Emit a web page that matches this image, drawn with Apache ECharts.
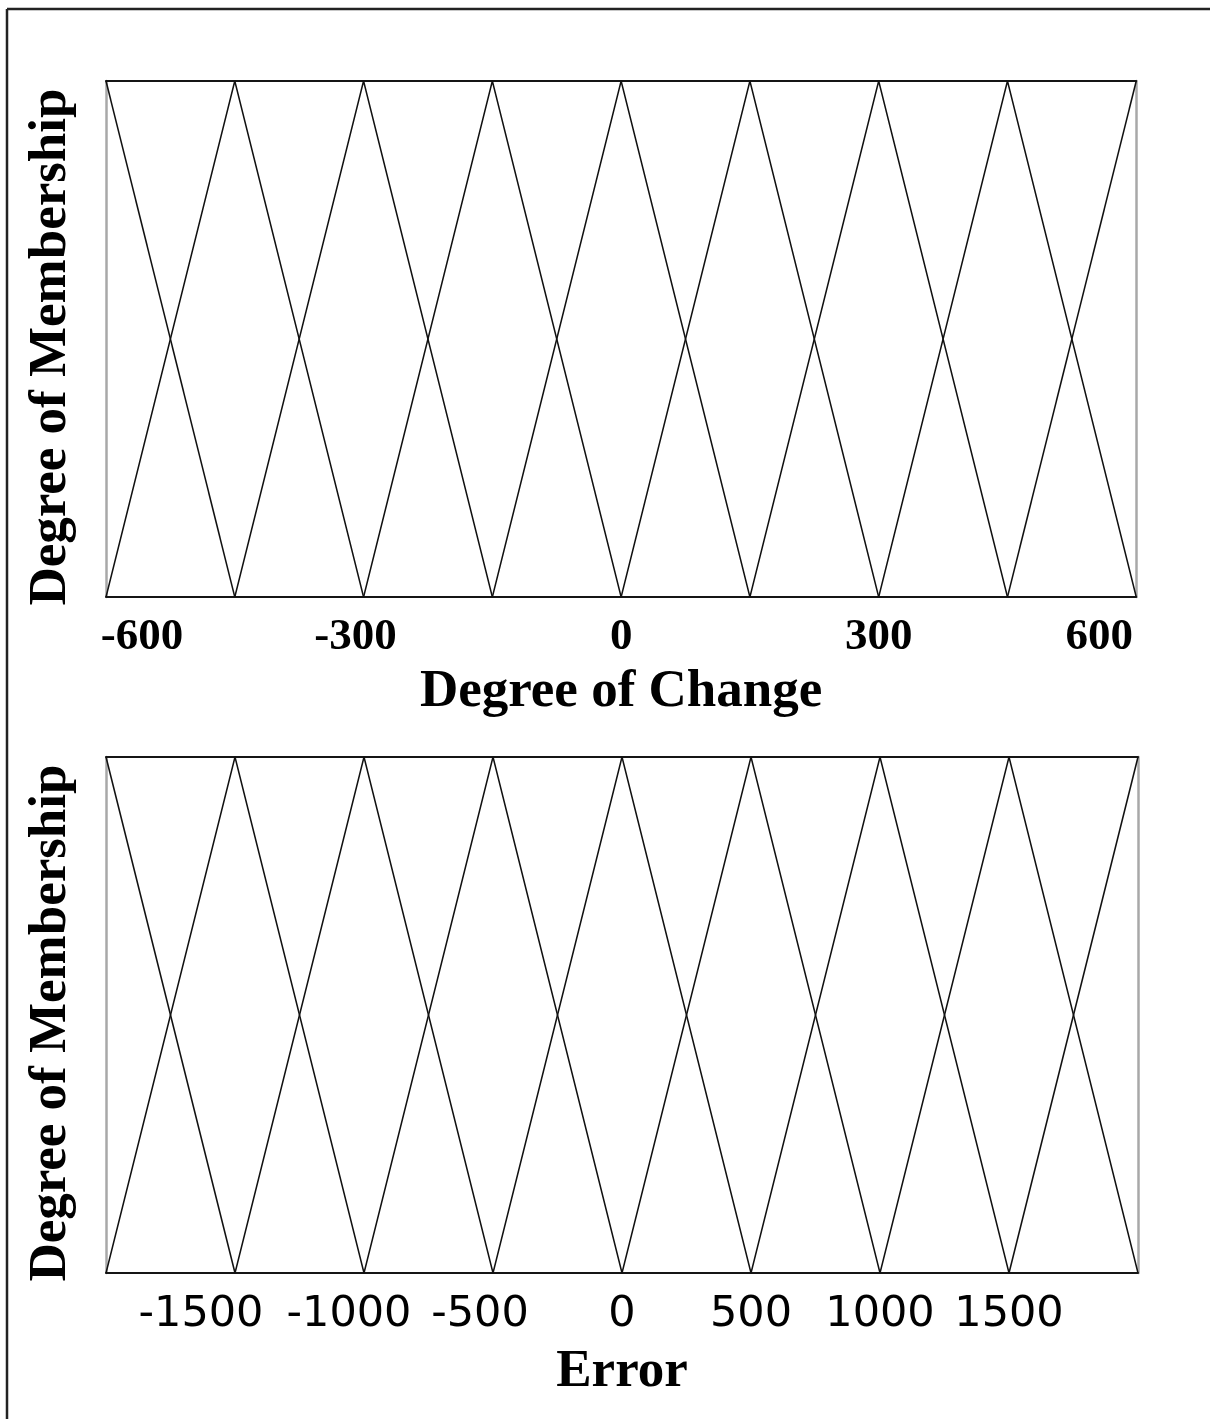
<!DOCTYPE html>
<html><head><meta charset="utf-8">
<script src="https://cdn.jsdelivr.net/npm/echarts@6/dist/echarts.min.js"></script>
<style>html,body{margin:0;padding:0;background:#fff}#c{width:1210px;height:1419px}</style>
</head><body><div id="c"></div>
<script>
// ---- data ----
const changePeaks = [-600, -450, -300, -150, 0, 150, 300, 450, 600];
const errorPeaks = [-2000, -1500, -1000, -500, 0, 500, 1000, 1500, 2000];
const changeTicks = [-600, -300, 0, 300, 600];
const errorTicks = [-1500, -1000, -500, 0, 500, 1000, 1500];
const membershipTop = 1;
const membershipBottom = 0;
const titleChange = 'Degree of Change';
const titleError = 'Error';
const titleMembership = 'Degree of Membership';

// ---- style (label nudges, px) ----
const changeLabelShift = { '-600': 36, '-300': -8, '0': 0, '300': 0, '600': -37 };
const errorLabelShift = { '-1500': -34, '-1000': -15, '-500': -13, '0': 0, '500': 0, '1000': 0, '1500': 0 };

function triangles(peaks) {
  return peaks.map((p, i) => {
    const d = [];
    if (i > 0) d.push([peaks[i - 1], membershipBottom]);
    d.push([p, membershipTop]);
    if (i < peaks.length - 1) d.push([peaks[i + 1], membershipBottom]);
    return d;
  });
}

function makeRich(shifts, font) {
  const rich = {};
  Object.keys(shifts).forEach((k, i) => {
    const s = shifts[k];
    rich['s' + i] = Object.assign({}, font, {
      padding: s >= 0 ? [0, 0, 0, 2 * s] : [0, -2 * s, 0, 0]
    });
  });
  return rich;
}
function makeFormatter(shifts, ticks) {
  const keys = Object.keys(shifts);
  return v => {
    if (ticks.indexOf(v) < 0) return '';
    const i = keys.indexOf(String(v));
    return '{s' + i + '|' + v + '}';
  };
}

const serifBold = { fontFamily: 'Liberation Serif', fontWeight: 'bold', color: '#000' };
const topLabelFont = Object.assign({}, serifBold, { fontSize: 45, lineHeight: 45 });
const botLabelFont = { fontFamily: 'DejaVu Sans', fontWeight: 'normal', fontSize: 43, lineHeight: 43, color: '#000' };
const titleFont = Object.assign({}, serifBold, { fontSize: 53, lineHeight: 53 });
const yTitleFont = Object.assign({}, titleFont, { padding: [0, 16, 0, 0] });

const lineBlack = { color: '#151515', width: 2 };
const lineGray = { color: '#a8a8a8', width: 2.5 };

function xAxes(gi, min, max, interval, ticks, shifts, font, name, gap, margin) {
  return [
    {
      gridIndex: gi, type: 'value', min: min, max: max, interval: interval, position: 'bottom',
      axisLine: { show: true, onZero: false, lineStyle: lineBlack }, axisTick: { show: false }, splitLine: { show: false },
      axisLabel: Object.assign({}, font, {
        margin: margin, showMinLabel: true, showMaxLabel: true,
        formatter: makeFormatter(shifts, ticks), rich: makeRich(shifts, font)
      }),
      name: name, nameLocation: 'middle', nameGap: gap, nameTextStyle: titleFont
    },
    {
      gridIndex: gi, type: 'value', min: min, max: max, position: 'top',
      axisLine: { show: true, onZero: false, lineStyle: lineBlack }, axisTick: { show: false },
      axisLabel: { show: false }, splitLine: { show: false }
    }
  ];
}
function yAxes(gi) {
  return [
    {
      gridIndex: gi, type: 'value', min: 0, max: 1, position: 'left',
      axisLine: { show: true, onZero: false, lineStyle: lineGray }, axisTick: { show: false },
      axisLabel: { show: false }, splitLine: { show: false },
      name: titleMembership, nameLocation: 'middle', nameGap: 28, nameRotate: 90, nameTextStyle: yTitleFont
    },
    {
      gridIndex: gi, type: 'value', min: 0, max: 1, position: 'right',
      axisLine: { show: true, onZero: false, lineStyle: lineGray }, axisTick: { show: false },
      axisLabel: { show: false }, splitLine: { show: false }
    }
  ];
}

const series = [];
triangles(changePeaks).forEach(d => series.push({
  type: 'line', xAxisIndex: 0, yAxisIndex: 0, data: d, symbol: 'none',
  lineStyle: { color: '#111', width: 1.5 }, clip: true, silent: true, z: 3
}));
triangles(errorPeaks).forEach(d => series.push({
  type: 'line', xAxisIndex: 2, yAxisIndex: 2, data: d, symbol: 'none',
  lineStyle: { color: '#111', width: 1.5 }, clip: true, silent: true, z: 3
}));

const chart = echarts.init(document.getElementById('c'), null, { renderer: 'canvas' });
chart.setOption({
  animation: false,
  backgroundColor: '#fff',
  grid: [
    { left: 106, top: 81, width: 1032, height: 516 },
    { left: 106, top: 757, width: 1032, height: 516 }
  ],
  xAxis: [].concat(
    xAxes(0, -600, 600, 300, changeTicks, changeLabelShift, topLabelFont, titleChange, 69, 18),
    xAxes(1, -2000, 2000, 500, errorTicks, errorLabelShift, botLabelFont, titleError, 73, 20)
  ),
  yAxis: [].concat(yAxes(0), yAxes(1)),
  series: series,
  graphic: [
    { type: 'line', shape: { x1: 7, y1: 9, x2: 7, y2: 1419 }, style: { stroke: '#222', lineWidth: 2.5 } },
    { type: 'line', shape: { x1: 7, y1: 9, x2: 1210, y2: 9 }, style: { stroke: '#222', lineWidth: 2.5 } }
  ]
});
</script></body></html>
